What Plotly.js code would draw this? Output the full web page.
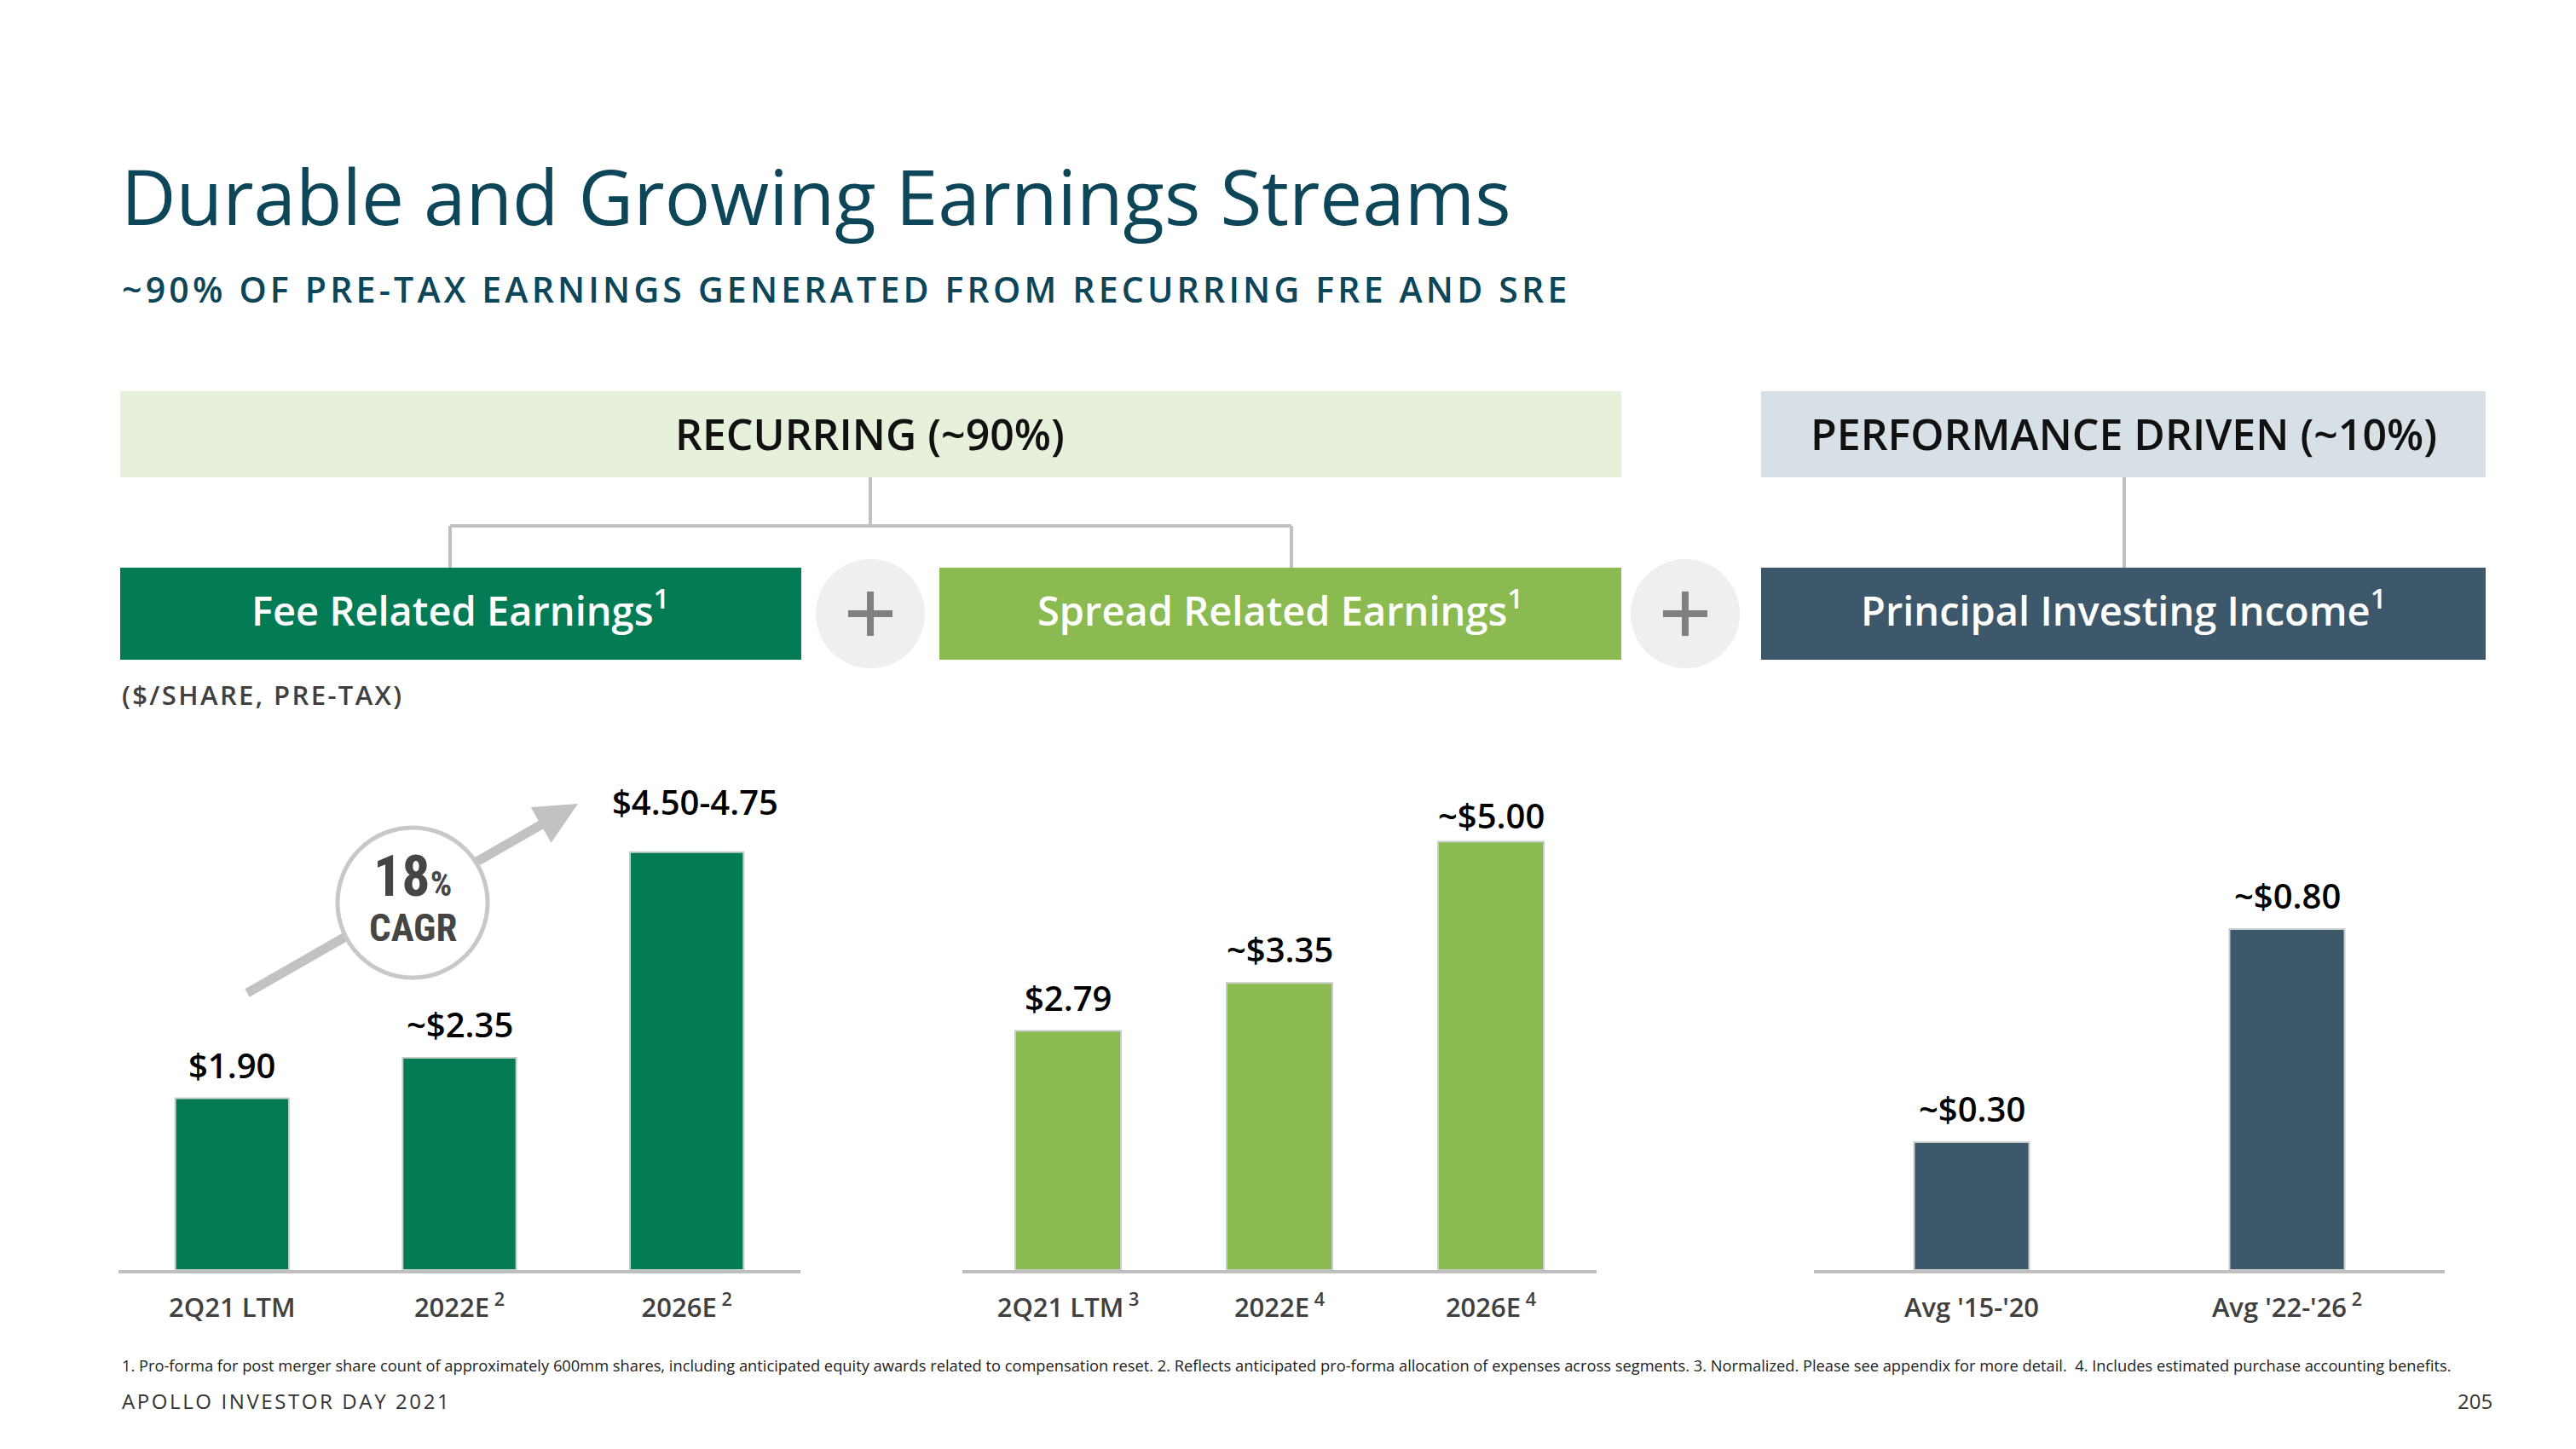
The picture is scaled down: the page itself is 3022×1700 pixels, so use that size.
<!DOCTYPE html>
<html>
<head>
<meta charset="utf-8">
<script src="https://cdn.plot.ly/plotly-3.0.1.min.js"></script>
<style>
html,body{margin:0;padding:0;background:#fff;}
#chart{width:3022px;height:1700px;}
</style>
<style id="spacing"></style>
</head>
<body>
<div id="chart"></div>
<script>
// ---------- data ----------
const freCategories = ['2Q21 LTM', '2022E', '2026E'];
const freTickLabels = ['2Q21 LTM', '2022E<sup> 2</sup>', '2026E<sup> 2</sup>'];
const freValues = [1.90, 2.35, 4.625];
const freLabels = ['$1.90', '~$2.35', '$4.50-4.75'];

const sreCategories = ['2Q21 LTM', '2022E', '2026E'];
const sreTickLabels = ['2Q21 LTM<sup> 3</sup>', '2022E<sup> 4</sup>', '2026E<sup> 4</sup>'];
const sreValues = [2.79, 3.35, 5.00];
const sreLabels = ['$2.79', '~$3.35', '~$5.00'];

const piiCategories = ["Avg '15-'20", "Avg '22-'26"];
const piiTickLabels = ["Avg '15-'20", "Avg '22-'26<sup> 2</sup>"];
const piiValues = [0.30, 0.80];
const piiLabels = ['~$0.30', '~$0.80'];

const titleText = 'Durable and Growing Earnings Streams';
const subtitleText = '~90% OF PRE-TAX EARNINGS GENERATED FROM RECURRING FRE AND SRE';
const recurringText = 'RECURRING (~90%)';
const performanceText = 'PERFORMANCE DRIVEN (~10%)';
const freTitle = 'Fee Related Earnings<sup>1</sup>';
const sreTitle = 'Spread Related Earnings<sup>1</sup>';
const piiTitle = 'Principal Investing Income<sup>1</sup>';
const unitText = '($/SHARE, PRE-TAX)';
const cagrValue = '18';
const cagrLabel = 'CAGR';
const footnoteText = '1. Pro-forma for post merger share count of approximately 600mm shares, including anticipated equity awards related to compensation reset. 2. Reflects anticipated pro-forma allocation of expenses across segments. 3. Normalized. Please see appendix for more detail.  4. Includes estimated purchase accounting benefits.';
const footerText = 'APOLLO INVESTOR DAY 2021';
const pageText = '205';

// ---------- layout helpers ----------
const W = 3022, H = 1700;
const X = v => v / W;
const Y = v => 1 - v / H;
const FONT = "'Open Sans', 'Noto Sans', sans-serif";
const NARROW = "'Liberation Sans Narrow', 'Roboto Condensed', 'DejaVu Sans Condensed', 'Arial Narrow', sans-serif";

const C_FRE = '#037c55', C_SRE = '#8aba50', C_PII = '#3e586b';
const BAR_EDGE = '#c5cec9';

const baseY = 1490, topY = 890, plotH = baseY - topY;

function barTrace(cats, vals, xa, ya, color, width) {
  return {
    type: 'bar', x: cats, y: vals, xaxis: xa, yaxis: ya, width: width,
    marker: {color: color, line: {color: BAR_EDGE, width: 2}},
    hoverinfo: 'skip', showlegend: false
  };
}

const data = [
  barTrace(freCategories, freValues, 'x', 'y', C_FRE, 0.5),
  barTrace(sreCategories, sreValues, 'x2', 'y2', C_SRE, 0.5),
  barTrace(piiCategories, piiValues, 'x3', 'y3', C_PII, 0.365)
];

function xAxis(dom, cats, ticks, anchor) {
  return {
    domain: [X(dom[0]), X(dom[1])], anchor: anchor, type: 'category',
    range: [-0.5, cats.length - 0.5],
    showline: true, linecolor: '#bfbfbf', linewidth: 4,
    ticks: '', tickvals: cats, ticktext: ticks, ticklabelstandoff: 14,
    tickfont: {family: FONT, size: 31, color: '#404040', weight: 600},
    showgrid: false, zeroline: false, fixedrange: true
  };
}
function yAxis(maxv, anchor) {
  return {domain: [Y(baseY), Y(topY)], anchor: anchor, range: [0, maxv], visible: false, fixedrange: true};
}

const shapes = [];
const annotations = [];
const spaced = {};

function rect(x0, y0, x1, y1, color) {
  shapes.push({type: 'rect', xref: 'paper', yref: 'paper', x0: X(x0), x1: X(x1), y0: Y(y1), y1: Y(y0),
    fillcolor: color, line: {width: 0}, layer: 'below'});
}
function line(x0, y0, x1, y1, color, w) {
  shapes.push({type: 'line', xref: 'paper', yref: 'paper', x0: X(x0), y0: Y(y0), x1: X(x1), y1: Y(y1),
    line: {color: color, width: w}});
}
function circle(cx, cy, r, fill, lc, lw) {
  shapes.push({type: 'circle', xref: 'paper', yref: 'paper', x0: X(cx - r), x1: X(cx + r), y0: Y(cy + r), y1: Y(cy - r),
    fillcolor: fill, line: {color: lc, width: lw}});
}
function text(t, x, y, size, color, opts) {
  opts = opts || {};
  const a = {
    xref: 'paper', yref: 'paper', x: X(x), y: Y(y), text: t, showarrow: false,
    xanchor: opts.xanchor || 'center', yanchor: opts.yanchor || 'middle', align: opts.align || 'center',
    font: {family: opts.family || FONT, size: size, color: color, weight: opts.weight || 400}
  };
  annotations.push(a);
  if (opts.spacing) spaced[annotations.length - 1] = opts.spacing;
  return a;
}

// header
text(titleText, 140, 230, 89, '#0c4658', {xanchor: 'left', align: 'left'});
text(subtitleText, 141, 339, 41, '#0c4658', {xanchor: 'left', align: 'left', weight: 600, spacing: 4.2});

// top boxes
rect(141, 459, 1902, 560, '#e6f0db');
rect(2066, 459, 2916, 560, '#d6e0e6');
text(recurringText, 1021, 509, 50, '#111111', {weight: 600});
text(performanceText, 2491, 509, 50, '#111111', {weight: 600});

// connectors
const CONN = '#c0c0c0';
line(1021, 560, 1021, 617, CONN, 4);
line(528, 617, 1515, 617, CONN, 4);
line(528, 617, 528, 666, CONN, 4);
line(1515, 617, 1515, 666, CONN, 4);
line(2492, 560, 2492, 666, CONN, 4);

// segment boxes
rect(141, 666, 940, 774, C_FRE);
rect(1102, 666, 1902, 774, C_SRE);
rect(2066, 666, 2916, 774, C_PII);
text(freTitle, 540, 714, 47, '#ffffff', {weight: 600});
text(sreTitle, 1502, 714, 47, '#ffffff', {weight: 600});
text(piiTitle, 2491, 714, 47, '#ffffff', {weight: 600});

// plus circles
[1021, 1977].forEach(cx => {
  circle(cx, 720, 64, '#efefef', '#efefef', 0);
  line(cx - 26, 720, cx + 26, 720, '#808080', 8);
  line(cx, 694, cx, 746, '#808080', 8);
});

text(unitText, 141, 815, 31, '#404040', {xanchor: 'left', align: 'left', weight: 600, spacing: 2.4});

// CAGR arrow + circle
(function () {
  const tail = [290, 1165], tip = [678, 943];
  const dx = tip[0] - tail[0], dy = tip[1] - tail[1];
  const L = Math.hypot(dx, dy), ux = dx / L, uy = dy / L;
  const hl = 50, hw = 24;
  const bx = tip[0] - ux * hl, by = tip[1] - uy * hl;
  const nx = -uy, ny = ux;
  line(tail[0], tail[1], bx + ux * 4, by + uy * 4, '#c2c2c2', 11);
  const p = (a, b) => X(a) + ',' + Y(b);
  shapes.push({type: 'path', xref: 'paper', yref: 'paper',
    path: 'M' + p(tip[0], tip[1]) + ' L' + p(bx + nx * hw, by + ny * hw) + ' L' + p(bx - nx * hw, by - ny * hw) + ' Z',
    fillcolor: '#c2c2c2', line: {width: 0}});
  circle(484, 1059, 88, '#ffffff', '#c8c8c8', 5);
})();
text(cagrValue + "<span style='font-size:40px'>%</span>", 484, 1028, 66, '#454545', {family: NARROW, weight: 700});
text(cagrLabel, 484, 1088, 45, '#454545', {family: NARROW, weight: 700});

// value labels via axes
function valueLabels(cats, vals, labels, xa, ya, extra) {
  cats.forEach((c, i) => {
    const e = (extra && extra[i]) || {};
    annotations.push({
      xref: xa, yref: ya, x: c, y: vals[i], text: labels[i], showarrow: false,
      xanchor: 'center', yanchor: 'bottom', yshift: e.yshift != null ? e.yshift : 10, xshift: e.xshift || 0,
      font: {family: FONT, size: 40, color: '#000000', weight: 600}
    });
  });
}
valueLabels(freCategories, freValues, freLabels, 'x', 'y', [null, null, {yshift: 30, xshift: 10}]);
valueLabels(sreCategories, sreValues, sreLabels, 'x2', 'y2', [null, null, {yshift: 2}]);
valueLabels(piiCategories, piiValues, piiLabels, 'x3', 'y3');

// footer
text(footnoteText, 141, 1601, 18.3, '#222222', {xanchor: 'left', align: 'left'});
text(footerText, 141, 1643, 24, '#333333', {xanchor: 'left', align: 'left', spacing: 2.6});
text(pageText, 2926, 1643, 24, '#333333', {xanchor: 'right', align: 'right'});

const layout = {
  width: W, height: H,
  margin: {l: 0, r: 0, t: 0, b: 0, pad: 0},
  paper_bgcolor: '#ffffff', plot_bgcolor: 'rgba(0,0,0,0)',
  showlegend: false,
  font: {family: FONT},
  xaxis: xAxis([139, 939], freCategories, freTickLabels, 'y'),
  yaxis: yAxis(plotH / 106, 'x'),
  xaxis2: xAxis([1129, 1873], sreCategories, sreTickLabels, 'y2'),
  yaxis2: yAxis(plotH / 100.5, 'x2'),
  xaxis3: xAxis([2128, 2868], piiCategories, piiTickLabels, 'y3'),
  yaxis3: yAxis(plotH / 500, 'x3'),
  shapes: shapes,
  annotations: annotations
};

let css = '';
Object.keys(spaced).forEach(i => {
  css += '.annotation[data-index="' + i + '"] text{letter-spacing:' + spaced[i] + 'px;}\n';
});
document.getElementById('spacing').textContent = css;

Plotly.newPlot('chart', data, layout, {displayModeBar: false, staticPlot: true});
</script>
</body>
</html>
